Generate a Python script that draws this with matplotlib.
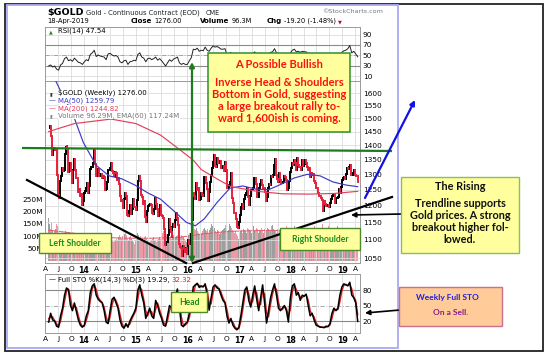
import numpy as np
import pandas as pd
import matplotlib
matplotlib.use("Agg")
import matplotlib.pyplot as plt
import matplotlib.dates as mdates
from matplotlib.patches import Rectangle
from matplotlib.ticker import FixedLocator, NullLocator, FuncFormatter

# ---------------- data (weekly, starting Fri 2013-04-26) ----------------
close_2013 = [1462, 1470, 1435, 1365, 1386, 1392, 1383, 1387, 1297, 1234, 1223, 1277, 1295, 1322, 1310, 1313,
              1371, 1395, 1396, 1387, 1308, 1333, 1338, 1310, 1272, 1314, 1352, 1315, 1287, 1288, 1244, 1251,
              1230, 1235, 1203, 1213]
close_2014 = [1238, 1247, 1254, 1270, 1240, 1263, 1318, 1324, 1326, 1339, 1382, 1336, 1294, 1303, 1318, 1294,
              1300, 1302, 1288, 1294, 1292, 1250, 1252, 1274, 1316, 1316, 1320, 1337, 1310, 1303, 1294, 1309,
              1306, 1280, 1287, 1267, 1231, 1216, 1218, 1192, 1222, 1238, 1231, 1172, 1169, 1185, 1201, 1175,
              1191, 1222, 1196, 1195]
close_2015 = [1186, 1217, 1277, 1293, 1279, 1234, 1228, 1204, 1213, 1167, 1152, 1183, 1199, 1201, 1204, 1203,
              1178, 1175, 1189, 1225, 1205, 1190, 1168, 1180, 1201, 1173, 1168, 1162, 1131, 1085, 1095, 1094,
              1113, 1160, 1134, 1121, 1108, 1137, 1146, 1137, 1156, 1177, 1163, 1142, 1088, 1081, 1076, 1056,
              1084, 1075, 1066, 1076]
close_2016 = [1060, 1098, 1089, 1097, 1116, 1158, 1239, 1230, 1222, 1271, 1250, 1254, 1217, 1222, 1240, 1234,
              1231, 1290, 1290, 1272, 1252, 1213, 1242, 1275, 1298, 1322, 1340, 1366, 1327, 1323, 1357, 1337,
              1338, 1345, 1321, 1326, 1327, 1310, 1341, 1313, 1257, 1254, 1266, 1276, 1304, 1224, 1208, 1178,
              1177, 1161, 1137, 1133, 1152]
close_2017 = [1173, 1197, 1205, 1191, 1220, 1234, 1239, 1257, 1226, 1203, 1229, 1249, 1249, 1257, 1289, 1289,
              1269, 1228, 1227, 1254, 1268, 1281, 1266, 1255, 1257, 1242, 1213, 1228, 1255, 1269, 1264, 1294,
              1291, 1297, 1330, 1351, 1325, 1297, 1284, 1275, 1304, 1280, 1272, 1270, 1274, 1296, 1292, 1281,
              1248, 1257, 1279, 1309]
close_2018 = [1322, 1338, 1333, 1350, 1337, 1315, 1356, 1330, 1323, 1324, 1313, 1347, 1327, 1336, 1347, 1338,
              1323, 1315, 1320, 1291, 1304, 1298, 1302, 1278, 1270, 1254, 1255, 1241, 1231, 1231, 1223, 1219,
              1184, 1213, 1206, 1200, 1201, 1201, 1196, 1207, 1222, 1230, 1236, 1236, 1209, 1223, 1223, 1226,
              1252, 1241, 1258, 1283]
close_2019 = [1289, 1292, 1284, 1302, 1320, 1318, 1326, 1332, 1299, 1298, 1305, 1316, 1298, 1295, 1294, 1276]

volume_2013 = [175, 150, 130, 160, 120, 115, 120, 130, 150, 140, 110, 105, 100, 115, 95, 90, 110, 120, 105, 95,
               100, 105, 85, 90, 110, 95, 100, 85, 80, 95, 90, 85, 100, 90, 75, 65]
volume_2014 = [80, 90, 95, 100, 90, 95, 105, 100, 90, 95, 115, 105, 100, 90, 85, 80, 75, 80, 85, 80,
               90, 95, 85, 90, 95, 100, 90, 85, 80, 75, 80, 85, 90, 85, 95, 100, 105, 95, 90, 100,
               95, 110, 115, 105, 90, 85, 95, 100, 90, 80, 75, 70]
volume_2015 = [85, 100, 115, 105, 95, 100, 90, 85, 80, 95, 100, 90, 85, 80, 75, 80, 85, 90, 95, 85,
               80, 75, 85, 90, 95, 90, 100, 115, 120, 105, 100, 110, 95, 90, 95, 100, 90, 95, 105, 100,
               95, 100, 105, 110, 100, 95, 105, 100, 95, 90, 80, 75]
volume_2016 = [95, 105, 115, 110, 105, 140, 160, 130, 125, 135, 120, 115, 105, 110, 115, 120, 130, 135, 125, 120,
               130, 115, 125, 135, 150, 140, 130, 135, 120, 115, 125, 120, 110, 115, 120, 125, 130, 115, 135, 145,
               130, 120, 125, 150, 140, 135, 125, 120, 115, 120, 110, 100, 90]
volume_2017 = [115, 120, 125, 115, 130, 125, 120, 115, 135, 130, 125, 120, 115, 130, 140, 125, 120, 135, 130, 115,
               120, 125, 135, 120, 115, 130, 125, 120, 135, 130, 125, 120, 140, 145, 130, 125, 120, 115, 130, 125,
               120, 115, 125, 130, 120, 135, 125, 140, 130, 120, 115, 105]
volume_2018 = [125, 135, 130, 140, 130, 135, 125, 120, 130, 125, 120, 135, 115, 120, 130, 125, 120, 130, 135, 125,
               115, 120, 130, 140, 135, 125, 120, 130, 125, 120, 135, 150, 130, 125, 120, 115, 125, 130, 140, 155,
               135, 130, 125, 120, 135, 130, 125, 140, 130, 120, 110, 105]
volume_2019 = [120, 125, 130, 115, 135, 125, 120, 130, 125, 120, 130, 125, 115, 120, 110, 96.29]

# bi-weekly RSI(14) and Full STO readings
rsi_vals = [30, 32, 28, 30, 24, 22, 32, 35, 44, 47, 40, 42, 39, 45, 41, 37, 36, 33,
            38, 42, 40, 52, 55, 60, 48, 51, 49, 48, 47, 42, 53, 54, 51, 49, 50, 47, 38, 36, 40, 41, 33, 38, 39, 41,
            40, 52, 55, 47, 45, 38, 44, 45, 42, 44, 47, 41, 44, 40, 35, 30, 36, 42, 39, 43, 45, 47, 36, 33, 35, 33,
            33, 40, 46, 62, 61, 64, 58, 60, 59, 66, 60, 58, 64, 68, 66, 67, 65, 62, 62, 63, 51, 52, 56, 44, 40, 36, 38,
            45, 44, 50, 54, 46, 51, 53, 57, 49, 52, 55, 52, 49, 47, 52, 56, 57, 63, 55, 52, 54, 52, 54, 53, 48, 55,
            60, 62, 57, 58, 56, 58, 57, 57, 53, 47, 49, 45, 40, 38, 37, 35, 33, 34, 35, 37, 43, 45, 42, 43, 49, 56,
            59, 60, 63, 69, 55, 58, 53, 47.54]
sto_k = [18, 35, 22, 20, 10, 8, 30, 45, 70, 84, 80, 50, 40, 55, 38, 22, 12, 8,
         12, 30, 40, 75, 88, 92, 70, 62, 58, 55, 40, 18, 15, 40, 62, 66, 55, 45, 22, 10, 6, 15, 8, 20, 28, 35,
         45, 80, 90, 70, 55, 25, 35, 45, 30, 25, 60, 50, 35, 25, 12, 10, 30, 50, 45, 55, 70, 82, 45, 12, 9, 15,
         18, 35, 55, 86, 90, 93, 85, 88, 86, 92, 70, 41, 65, 86, 90, 84, 82, 70, 60, 55, 30, 16, 25, 12, 6, 3, 8,
         30, 55, 80, 86, 60, 47, 70, 88, 62, 40, 65, 90, 55, 16, 40, 65, 80, 92, 70, 45, 40, 45, 50, 40, 18, 65,
         88, 92, 70, 75, 60, 70, 68, 72, 50, 30, 35, 22, 12, 10, 8, 8, 7, 10, 9, 15, 35, 45, 40, 45, 70, 86,
         92, 90, 88, 95, 70, 65, 55, 19.29]
sto_d = [25, 27, 28, 21, 15, 10, 19, 38, 58, 77, 82, 65, 45, 48, 46, 30, 17, 10,
         10, 21, 35, 58, 82, 90, 81, 66, 60, 56, 47, 29, 16, 28, 51, 64, 60, 50, 33, 16, 8, 11, 12, 14, 24, 32,
         40, 62, 85, 80, 62, 40, 30, 40, 38, 28, 42, 55, 42, 30, 18, 11, 20, 40, 48, 50, 62, 76, 63, 28, 11, 12,
         16, 26, 45, 70, 88, 92, 89, 86, 87, 89, 81, 55, 53, 75, 88, 87, 83, 76, 65, 57, 42, 23, 20, 18, 9, 5, 5,
         19, 42, 68, 83, 73, 53, 58, 79, 75, 51, 52, 78, 72, 35, 28, 52, 72, 86, 81, 57, 42, 42, 48, 45, 29, 42,
         76, 90, 81, 72, 67, 65, 69, 70, 61, 40, 32, 28, 17, 11, 9, 8, 8, 8, 10, 12, 25, 40, 42, 42, 57, 78,
         89, 91, 89, 91, 82, 67, 60, 32.32]

ma50_dates = ['2013-04-26', '2013-06-07', '2013-07-26', '2013-10-11', '2013-12-27', '2014-03-28', '2014-06-27',
              '2014-09-26', '2014-12-26', '2015-03-27', '2015-06-26', '2015-09-25', '2015-12-25', '2016-02-26',
              '2016-04-29', '2016-07-29', '2016-10-28', '2017-01-27', '2017-04-28', '2017-07-28', '2017-10-27',
              '2018-01-26', '2018-04-27', '2018-07-27', '2018-10-26', '2019-01-25', '2019-04-19']
ma50_vals = [1690, 1660, 1600, 1520, 1410, 1330, 1295, 1285, 1265, 1240, 1220, 1185, 1150, 1140, 1160,
             1210, 1255, 1262, 1252, 1250, 1268, 1288, 1300, 1295, 1275, 1265, 1259.79]
ma200_dates = ['2013-04-26', '2013-10-25', '2014-07-11', '2015-01-02', '2015-06-26', '2015-11-20', '2016-02-12',
               '2016-04-08', '2016-07-29', '2016-11-04', '2017-05-05', '2017-11-03', '2018-05-04', '2018-11-02',
               '2019-04-19']
ma200_vals = [1450, 1480, 1497, 1480, 1437, 1380, 1348, 1316, 1285, 1260, 1245, 1237, 1236, 1238, 1244.82]
vema_dates = ['2013-04-26', '2013-10-25', '2014-04-25', '2014-10-31', '2015-04-24', '2015-10-30', '2016-04-29',
              '2016-10-28', '2017-04-28', '2017-10-27', '2018-04-27', '2018-10-26', '2019-01-25', '2019-04-19']
vema_vals = [125, 112, 95, 92, 92, 95, 110, 120, 123, 124, 126, 122, 120, 117.24]

price_ticks = [1050, 1100, 1150, 1200, 1250, 1300, 1350, 1400, 1450, 1500, 1550, 1600]
volume_ticks = [50, 100, 150, 200, 250]
rsi_ticks = [10, 30, 50, 70, 90]
sto_ticks = [20, 50, 80]

# ---------------- figure ----------------
W, H = 550, 356
fig = plt.figure(figsize=(W / 100, H / 100), dpi=100)
fig.patch.set_facecolor("white")

def px_axes(x0, y0, x1, y1, **kw):
    return fig.add_axes([x0 / W, 1 - y1 / H, (x1 - x0) / W, (y1 - y0) / H], **kw)

close = np.array(close_2013 + close_2014 + close_2015 + close_2016 + close_2017 + close_2018 + close_2019, float)
volume = np.array(volume_2013 + volume_2014 + volume_2015 + volume_2016 + volume_2017 + volume_2018 + volume_2019, float)
start = pd.Timestamp("2013-04-26")
wk = start + pd.to_timedelta(np.arange(len(close)) * 7, "D")
bi = start + pd.to_timedelta(np.arange(len(rsi_vals)) * 14, "D")
prev = np.r_[close[0], close[:-1]]
up = close >= prev

AX_L, AX_R = 45, 360
x_start = pd.Timestamp("2013-03-31")
span_days = (AX_R - AX_L) / 0.1415
xlim = (mdates.date2num(x_start), mdates.date2num(x_start) + span_days)

qt = pd.date_range("2013-04-01", "2019-04-01", freq="QS-JAN")
qlabels = [{1: d.strftime("%y"), 4: "A", 7: "J", 10: "O"}[d.month] for d in qt]

GRID = "#dcdcdc"
SPINE = "#9a9a9a"
TFS = 5.3

def style_axes(ax, show_labels):
    ax.set_xlim(*xlim)
    ax.xaxis.set_major_locator(FixedLocator(mdates.date2num(qt)))
    ax.xaxis.set_minor_locator(NullLocator())
    if show_labels:
        ax.set_xticklabels(qlabels)
        for lab, d in zip(ax.get_xticklabels(), qt):
            lab.set_fontsize(TFS + 0.4 if d.month == 1 else TFS)
            if d.month == 1:
                lab.set_fontweight("bold")
    else:
        ax.set_xticklabels([])
    ax.tick_params(axis="x", length=0, pad=2)
    ax.tick_params(axis="y", length=0, pad=2, labelsize=TFS)
    ax.grid(True, axis="x", color=GRID, lw=0.6)
    for s in ax.spines.values():
        s.set_color(SPINE)
        s.set_linewidth(0.7)

# ---- RSI panel ----
ax_r = px_axes(AX_L, 27, AX_R, 81)
style_axes(ax_r, False)
ax_r.set_ylim(1.4, 104.3)
ax_r.yaxis.tick_right()
ax_r.yaxis.set_major_locator(FixedLocator(rsi_ticks))
ax_r.grid(True, axis="y", color=GRID, lw=0.6)
ax_r.axhline(70, color="#8a8a8a", lw=0.8)
ax_r.axhline(30, color="#8a8a8a", lw=0.8)
ax_r.axhline(50, color="#9a9a9a", lw=0.6, ls=(0, (5, 2, 1, 2)))
ax_r.plot(bi, rsi_vals, color="#222222", lw=0.7)

# ---- volume (own axes, under the price axes) ----
ax_v = px_axes(AX_L, 81, AX_R, 263)
ax_v.set_xlim(*xlim)
ax_v.set_ylim(-9.2, 733.6)
ax_v.xaxis.set_major_locator(NullLocator())
ax_v.yaxis.set_major_locator(FixedLocator(volume_ticks))
ax_v.yaxis.set_major_formatter(FuncFormatter(lambda v, p: f"{v:.0f}M"))
ax_v.tick_params(axis="y", length=0, pad=1.5, labelsize=TFS)
for s in ax_v.spines.values():
    s.set_visible(False)
vdates = mdates.date2num(wk)
nv = min(len(volume), len(vdates))
vcol = ["#9e9e9e" if u else "#ee9aa6" for u in up[:nv]]
ax_v.bar(vdates[:nv], volume[:nv], width=7.0, color=vcol, edgecolor="none", linewidth=0, zorder=1)
ax_v.plot(mdates.date2num(pd.to_datetime(vema_dates)), vema_vals, color="#e05a6a", lw=0.7, zorder=2)

# ---- price panel ----
ax_p = px_axes(AX_L, 81, AX_R, 263)
ax_p.patch.set_visible(False)
style_axes(ax_p, True)
ax_p.set_yscale("log")
ax_p.set_ylim(1036.7, 1649.8)
ax_p.yaxis.set_major_locator(FixedLocator(price_ticks))
ax_p.yaxis.set_minor_locator(NullLocator())
ax_p.yaxis.set_major_formatter(FuncFormatter(lambda v, p: f"{v:.0f}"))
ax_p.yaxis.tick_right()
ax_p.grid(True, axis="y", color=GRID, lw=0.6)

lo = np.minimum(prev, close)
hi = np.maximum(prev, close)
ax_p.vlines(wk[up], lo[up], hi[up], colors="black", linewidth=1.4, capstyle="projecting", zorder=3)
ax_p.vlines(wk[~up], lo[~up], hi[~up], colors="#e6213d", linewidth=1.4, capstyle="projecting", zorder=3)
ax_p.plot(pd.to_datetime(ma50_dates), ma50_vals, color="#3b3bc4", lw=0.85, zorder=4)
ax_p.plot(pd.to_datetime(ma200_dates), ma200_vals, color="#e2405c", lw=0.85, zorder=4)

# ---- STO panel ----
ax_s = px_axes(AX_L, 274, AX_R, 333)
style_axes(ax_s, True)
ax_s.set_ylim(-3.2, 111)
ax_s.yaxis.tick_right()
ax_s.yaxis.set_major_locator(FixedLocator(sto_ticks))
ax_s.axhline(80, color="#8a8a8a", lw=0.8)
ax_s.axhline(20, color="#8a8a8a", lw=0.8)
ax_s.axhline(50, color="#9a9a9a", lw=0.6, ls=(0, (5, 2, 1, 2)))
ax_s.plot(bi, sto_d, color="#e02020", lw=1.0)
ax_s.plot(bi, sto_k, color="black", lw=1.1)

# ---------------- overlay (annotations, pixel coordinates) ----------------
ov = fig.add_axes([0, 0, 1, 1])
ov.set_xlim(0, W)
ov.set_ylim(H, 0)
ov.axis("off")
ov.patch.set_alpha(0)
ov.set_zorder(20)
renderer = fig.canvas.get_renderer()

ov.add_patch(Rectangle((5, 4), 538, 347, fill=False, ec="#222222", lw=1.3))
ov.add_patch(Rectangle((6.5, 5), 391.5, 343, fill=False, ec="#a9a9f2", lw=1.3))

def t(x, y, s, **kw):
    kw.setdefault("fontsize", 5.0)
    kw.setdefault("va", "baseline")
    return ov.text(x, y, s, **kw)

def flow(x, y, pieces, gap=2.0):
    for s, kw in pieces:
        txt = t(x, y, s, **kw)
        x += txt.get_window_extent(renderer=renderer).width + gap
    return x

# header
t(47, 15, "$GOLD", fontsize=6.8, fontweight="bold")
t(86, 15, "Gold - Continuous Contract (EOD)", fontsize=4.9, color="#222222")
t(206, 15, "CME", fontsize=4.7, color="#222222")
t(322, 13, "\u00a9StockCharts.com", fontsize=4.6, color="#777777")
t(47, 23, "18-Apr-2019", fontsize=4.9)
B = dict(fontsize=5.0, fontweight="bold")
R = dict(fontsize=4.8)
flow(131, 23, [("Close", B), ("1276.00", R)])
flow(200, 23, [("Volume", B), ("96.3M", R)])
flow(267, 23, [("Chg", B), ("-19.20 (-1.48%)", R), ("\u25BC", dict(fontsize=3.6, color="#b0102a"))])

# panel legends (white backing like the original)
WB = dict(fc="white", ec="none", pad=0.3)
t(49, 33, "\u25B2", fontsize=3.5, color="#2f7f2f")
t(58, 33, "RSI(14) 47.54", fontsize=5.0, bbox=WB)
t(50, 95, "\u25AE", fontsize=3.5, color="#333333")
t(58, 95, "$GOLD (Weekly) 1276.00", fontsize=5.0, bbox=WB)
t(49, 102.5, "\u2014", fontsize=5.0, color="#3b3bc4")
t(58, 102.5, "MA(50) 1259.79", fontsize=5.0, color="#3b3bc4", bbox=WB)
t(49, 110, "\u2014", fontsize=5.0, color="#e2405c")
t(58, 110, "MA(200) 1244.82", fontsize=5.0, color="#e2405c", bbox=WB)
t(50, 117.5, "\u25AE", fontsize=3.5, color="#888888")
t(58, 117.5, "Volume 96.29M, EMA(60) 117.24M", fontsize=5.0, color="#777777", bbox=WB)
t(49, 281.5, "\u2014", fontsize=5.0, color="black")
flow(58, 281.5, [("Full STO %K(14,3) %D(3) 19.29,", dict(fontsize=5.0)),
                 ("32.32", dict(fontsize=5.0, color="#e02020"))], gap=1.5)

# trend / pattern lines
DG = "#1d7a1d"
ov.plot([22, 392], [148, 151], color=DG, lw=1.6, solid_capstyle="butt")
ov.plot([27, 186], [180, 263], color="black", lw=1.6)
ov.plot([193, 392], [263, 197], color="black", lw=1.6)
ov.annotate("", xy=(192, 62), xytext=(192, 263),
            arrowprops=dict(arrowstyle="<|-|>", color=DG, lw=1.6, mutation_scale=7, shrinkA=0, shrinkB=0))
ov.annotate("", xy=(415, 100), xytext=(365, 198),
            arrowprops=dict(arrowstyle="-|>", color="#1010e8", lw=1.6, mutation_scale=7, shrinkA=0, shrinkB=0))
ov.annotate("", xy=(351, 215), xytext=(402, 214),
            arrowprops=dict(arrowstyle="-|>", color="black", lw=1.2, mutation_scale=7, shrinkA=0, shrinkB=0))
ov.annotate("", xy=(365, 313), xytext=(400, 310),
            arrowprops=dict(arrowstyle="-|>", color="black", lw=1.2, mutation_scale=7, shrinkA=0, shrinkB=0))

FONT = ["Lato", "DejaVu Sans"]
YEL = "#ffff9e"

def box(x0, y0, x1, y1, fc, ec, lw=1.0):
    ov.add_patch(Rectangle((x0, y0), x1 - x0, y1 - y0, fc=fc, ec=ec, lw=lw, zorder=5))

box(208, 53, 350, 132, YEL, "#2f8f2f", 1.1)
for yy, s in [(68, "A Possible Bullish"), (86, "Inverse Head & Shoulders"), (98, "Bottom in Gold, suggesting"),
              (110, "a large breakout rally to-"), (122, "ward 1,600ish is coming.")]:
    ov.text(279, yy, s, ha="center", va="baseline", fontsize=8.0, fontweight="bold", color="#ff1010",
            family=FONT, zorder=6)

box(401, 177, 519, 253, YEL, "#8cbf5a", 1.0)
for yy, s in [(190, "The Rising"), (207, "Trendline supports"), (219, "Gold prices. A strong"),
              (231, "breakout higher fol-"), (243, "lowed.")]:
    ov.text(460, yy, s, ha="center", va="baseline", fontsize=7.8, fontweight="bold", color="#111111",
            family=FONT, zorder=6)

box(399, 287, 502, 326, "#ffcc99", "#cc6f8c", 1.0)
ov.text(447, 300, "Weekly Full STO", ha="center", va="baseline", fontsize=6.0, fontweight="bold",
        color="#1f1fe0", family=FONT, zorder=6)
ov.text(451, 315, "On a Sell.", ha="center", va="baseline", fontsize=6.0, fontweight="bold",
        color="#8a1a8a", family=FONT, zorder=6)

box(39, 233, 111, 253, YEL, "#4c8a2a", 1.0)
ov.text(75, 246, "Left Shoulder", ha="center", va="baseline", fontsize=6.2, fontweight="bold",
        color="#1f8a1f", family=FONT, zorder=6)
box(280, 228, 360, 250, YEL, "#4c8a2a", 1.0)
ov.text(320, 242, "Right Shoulder", ha="center", va="baseline", fontsize=6.2, fontweight="bold",
        color="#1f8a1f", family=FONT, zorder=6)
box(171, 292, 207, 312, YEL, "#4c8a2a", 1.0)
ov.text(189, 305, "Head", ha="center", va="baseline", fontsize=6.2, fontweight="bold",
        color="#1f8a1f", family=FONT, zorder=6)

fig.savefig("out.png", dpi=100, facecolor="white")
